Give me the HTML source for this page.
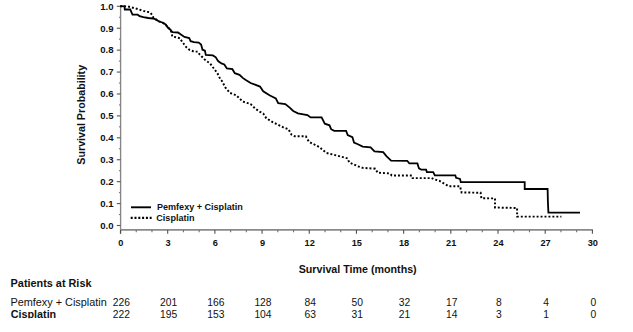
<!DOCTYPE html>
<html><head><meta charset="utf-8"><style>
html,body{margin:0;padding:0;background:#fff;}
body{width:633px;height:332px;overflow:hidden;}
svg{display:block;}
text{font-family:"Liberation Sans",sans-serif;fill:#111;}
.yl{font-size:9.6px;font-weight:bold;text-anchor:end;}
.xl{font-size:9.2px;font-weight:bold;text-anchor:middle;}
.lg{font-size:9.05px;font-weight:bold;}
.tt{font-size:10.7px;font-weight:bold;}
.pr{font-size:10.87px;font-weight:bold;}
.rw{font-size:10.88px;}
.rb{font-size:10.75px;font-weight:bold;}
.nm{font-size:10.3px;text-anchor:middle;}
</style></head><body>
<svg width="633" height="332" viewBox="0 0 633 332">
<defs><clipPath id="c1"><rect x="0" y="300" width="633" height="18.3"/></clipPath></defs>
<rect width="633" height="332" fill="#fff"/>
<line x1="120.6" y1="6" x2="120.6" y2="233.5" stroke="#868686" stroke-width="1.35"/>
<line x1="120" y1="229.9" x2="593" y2="229.9" stroke="#8a8a86" stroke-width="1.7"/>
<line x1="116.8" y1="225.50" x2="120.5" y2="225.50" stroke="#555" stroke-width="1.1"/>
<text x="113.5" y="228.80" class="yl">0.0</text>
<line x1="116.8" y1="203.58" x2="120.5" y2="203.58" stroke="#555" stroke-width="1.1"/>
<text x="113.5" y="206.88" class="yl">0.1</text>
<line x1="116.8" y1="181.66" x2="120.5" y2="181.66" stroke="#555" stroke-width="1.1"/>
<text x="113.5" y="184.96" class="yl">0.2</text>
<line x1="116.8" y1="159.74" x2="120.5" y2="159.74" stroke="#555" stroke-width="1.1"/>
<text x="113.5" y="163.04" class="yl">0.3</text>
<line x1="116.8" y1="137.82" x2="120.5" y2="137.82" stroke="#555" stroke-width="1.1"/>
<text x="113.5" y="141.12" class="yl">0.4</text>
<line x1="116.8" y1="115.90" x2="120.5" y2="115.90" stroke="#555" stroke-width="1.1"/>
<text x="113.5" y="119.20" class="yl">0.5</text>
<line x1="116.8" y1="93.98" x2="120.5" y2="93.98" stroke="#555" stroke-width="1.1"/>
<text x="113.5" y="97.28" class="yl">0.6</text>
<line x1="116.8" y1="72.06" x2="120.5" y2="72.06" stroke="#555" stroke-width="1.1"/>
<text x="113.5" y="75.36" class="yl">0.7</text>
<line x1="116.8" y1="50.14" x2="120.5" y2="50.14" stroke="#555" stroke-width="1.1"/>
<text x="113.5" y="53.44" class="yl">0.8</text>
<line x1="116.8" y1="28.22" x2="120.5" y2="28.22" stroke="#555" stroke-width="1.1"/>
<text x="113.5" y="31.52" class="yl">0.9</text>
<line x1="116.8" y1="6.30" x2="120.5" y2="6.30" stroke="#555" stroke-width="1.1"/>
<text x="113.5" y="9.60" class="yl">1.0</text>
<line x1="118.9" y1="214.54" x2="120.5" y2="214.54" stroke="#777" stroke-width="1.1"/>
<line x1="118.9" y1="192.62" x2="120.5" y2="192.62" stroke="#777" stroke-width="1.1"/>
<line x1="118.9" y1="170.70" x2="120.5" y2="170.70" stroke="#777" stroke-width="1.1"/>
<line x1="118.9" y1="148.78" x2="120.5" y2="148.78" stroke="#777" stroke-width="1.1"/>
<line x1="118.9" y1="126.86" x2="120.5" y2="126.86" stroke="#777" stroke-width="1.1"/>
<line x1="118.9" y1="104.94" x2="120.5" y2="104.94" stroke="#777" stroke-width="1.1"/>
<line x1="118.9" y1="83.02" x2="120.5" y2="83.02" stroke="#777" stroke-width="1.1"/>
<line x1="118.9" y1="61.10" x2="120.5" y2="61.10" stroke="#777" stroke-width="1.1"/>
<line x1="118.9" y1="39.18" x2="120.5" y2="39.18" stroke="#777" stroke-width="1.1"/>
<line x1="118.9" y1="17.26" x2="120.5" y2="17.26" stroke="#777" stroke-width="1.1"/>
<line x1="120.50" y1="230" x2="120.50" y2="233.8" stroke="#505050" stroke-width="1.1"/>
<text x="120.90" y="246" class="xl">0</text>
<line x1="136.23" y1="230" x2="136.23" y2="232.3" stroke="#707070" stroke-width="1.1"/>
<line x1="151.96" y1="230" x2="151.96" y2="232.3" stroke="#707070" stroke-width="1.1"/>
<line x1="167.69" y1="230" x2="167.69" y2="233.8" stroke="#505050" stroke-width="1.1"/>
<text x="168.09" y="246" class="xl">3</text>
<line x1="183.42" y1="230" x2="183.42" y2="232.3" stroke="#707070" stroke-width="1.1"/>
<line x1="199.15" y1="230" x2="199.15" y2="232.3" stroke="#707070" stroke-width="1.1"/>
<line x1="214.88" y1="230" x2="214.88" y2="233.8" stroke="#505050" stroke-width="1.1"/>
<text x="215.28" y="246" class="xl">6</text>
<line x1="230.61" y1="230" x2="230.61" y2="232.3" stroke="#707070" stroke-width="1.1"/>
<line x1="246.34" y1="230" x2="246.34" y2="232.3" stroke="#707070" stroke-width="1.1"/>
<line x1="262.07" y1="230" x2="262.07" y2="233.8" stroke="#505050" stroke-width="1.1"/>
<text x="262.47" y="246" class="xl">9</text>
<line x1="277.80" y1="230" x2="277.80" y2="232.3" stroke="#707070" stroke-width="1.1"/>
<line x1="293.53" y1="230" x2="293.53" y2="232.3" stroke="#707070" stroke-width="1.1"/>
<line x1="309.26" y1="230" x2="309.26" y2="233.8" stroke="#505050" stroke-width="1.1"/>
<text x="309.66" y="246" class="xl">12</text>
<line x1="324.99" y1="230" x2="324.99" y2="232.3" stroke="#707070" stroke-width="1.1"/>
<line x1="340.72" y1="230" x2="340.72" y2="232.3" stroke="#707070" stroke-width="1.1"/>
<line x1="356.45" y1="230" x2="356.45" y2="233.8" stroke="#505050" stroke-width="1.1"/>
<text x="356.85" y="246" class="xl">15</text>
<line x1="372.18" y1="230" x2="372.18" y2="232.3" stroke="#707070" stroke-width="1.1"/>
<line x1="387.91" y1="230" x2="387.91" y2="232.3" stroke="#707070" stroke-width="1.1"/>
<line x1="403.64" y1="230" x2="403.64" y2="233.8" stroke="#505050" stroke-width="1.1"/>
<text x="404.04" y="246" class="xl">18</text>
<line x1="419.37" y1="230" x2="419.37" y2="232.3" stroke="#707070" stroke-width="1.1"/>
<line x1="435.10" y1="230" x2="435.10" y2="232.3" stroke="#707070" stroke-width="1.1"/>
<line x1="450.83" y1="230" x2="450.83" y2="233.8" stroke="#505050" stroke-width="1.1"/>
<text x="451.23" y="246" class="xl">21</text>
<line x1="466.56" y1="230" x2="466.56" y2="232.3" stroke="#707070" stroke-width="1.1"/>
<line x1="482.29" y1="230" x2="482.29" y2="232.3" stroke="#707070" stroke-width="1.1"/>
<line x1="498.02" y1="230" x2="498.02" y2="233.8" stroke="#505050" stroke-width="1.1"/>
<text x="498.42" y="246" class="xl">24</text>
<line x1="513.75" y1="230" x2="513.75" y2="232.3" stroke="#707070" stroke-width="1.1"/>
<line x1="529.48" y1="230" x2="529.48" y2="232.3" stroke="#707070" stroke-width="1.1"/>
<line x1="545.21" y1="230" x2="545.21" y2="233.8" stroke="#505050" stroke-width="1.1"/>
<text x="545.61" y="246" class="xl">27</text>
<line x1="560.94" y1="230" x2="560.94" y2="232.3" stroke="#707070" stroke-width="1.1"/>
<line x1="576.67" y1="230" x2="576.67" y2="232.3" stroke="#707070" stroke-width="1.1"/>
<line x1="592.40" y1="230" x2="592.40" y2="233.8" stroke="#505050" stroke-width="1.1"/>
<text x="592.80" y="246" class="xl">30</text>
<polyline points="120.2,6.2 124.5,6.4 124.8,9.5 130.2,9.5 132.5,14.7 137.7,14.7 139.6,16.1 143.4,17.1 148.2,18.0 152.9,18.5 155.8,19.4 158.6,21.3 162.4,22.5 165.7,24.5 167.6,27.3 170.4,29.7 172.3,32.1 178.0,32.5 180.9,34.4 184.5,36.9 189.2,38.0 190.6,41.2 194.0,42.1 198.7,42.6 201.1,44.5 202.5,49.7 204.9,50.6 205.8,54.9 212.9,55.4 215.8,57.3 218.1,61.1 221.4,63.4 224.3,64.4 226.9,68.4 232.4,69.2 234.8,73.2 239.5,74.8 242.7,77.9 245.8,80.0 250.6,83.0 260.0,86.6 263.2,91.3 269.5,95.3 275.8,98.4 278.2,103.2 285.3,104.0 290.0,107.9 293.2,111.0 297.9,113.4 307.4,115.0 310.6,117.4 321.6,117.4 324.8,123.7 329.5,125.3 331.1,129.2 334.2,130.8 346.1,130.8 347.7,135.0 352.4,137.1 354.0,142.6 357.9,144.2 362.7,146.6 370.6,147.4 374.5,151.3 383.2,152.1 386.4,156.1 391.1,160.6 407.2,160.8 409.3,163.4 417.4,163.4 419.0,168.4 421.3,169.7 426.1,169.7 426.9,172.1 433.2,172.1 434.8,175.4 455.3,175.4 456.1,177.8 460.0,178.9 460.8,182.2 524.7,182.2 524.7,189.0 547.6,189.0 547.9,201.6 548.4,212.7 580.0,212.7" fill="none" stroke="#000" stroke-width="1.8" stroke-linejoin="miter"/>
<polyline points="120.2,6.2 127.3,6.4 130.6,7.1 134.0,8.1 137.7,9.0 140.6,10.0 143.4,10.9 147.2,11.8 150.0,12.3 152.0,14.7 153.4,17.5 155.8,19.4 158.6,21.3 162.4,22.5 165.7,24.5 167.6,27.3 170.4,29.7 171.4,32.0 172.3,36.5 176.1,37.3 179.9,38.2 180.7,39.7 183.5,43.5 186.4,47.3 189.2,49.7 194.0,51.6 197.7,51.6 199.6,54.4 202.5,57.3 204.4,59.2 207.2,61.5 210.1,63.4 212.6,66.9 217.4,73.2 220.5,79.5 222.0,81.0 225.3,87.4 230.0,92.9 236.3,95.3 242.7,101.6 250.6,104.0 255.3,108.7 260.0,111.8 263.2,113.4 266.3,118.2 272.6,122.1 283.7,127.6 288.4,129.2 291.6,134.8 294.8,136.3 305.8,136.3 309.0,141.9 315.3,145.0 320.0,147.4 321.6,149.0 326.3,152.9 339.0,156.1 347.6,158.4 349.2,162.4 357.9,166.3 362.7,167.9 375.3,168.7 377.7,172.7 389.5,173.4 391.9,175.5 411.8,175.5 412.6,178.1 431.6,178.1 434.0,179.2 439.5,180.8 443.4,183.2 449.0,186.3 460.0,186.3 461.6,192.5 480.6,192.7 481.4,198.3 495.0,198.4 495.0,207.5 517.1,208.0 517.1,216.6 561.4,216.6" fill="none" stroke="#000" stroke-width="1.95" stroke-dasharray="1.95 2"/>
<line x1="131" y1="207.3" x2="151" y2="207.3" stroke="#000" stroke-width="1.9"/>
<line x1="130.7" y1="217.9" x2="151.6" y2="217.9" stroke="#000" stroke-width="2.1" stroke-dasharray="2 1.8"/>
<text x="157" y="209.7" class="lg">Pemfexy + Cisplatin</text>
<text x="156.3" y="221" class="lg">Cisplatin</text>
<text transform="translate(85.0,114.8) rotate(-90)" class="tt" text-anchor="middle">Survival Probability</text>
<text x="357.7" y="272.7" class="tt" text-anchor="middle">Survival Time (months)</text>
<text x="10.6" y="286.8" class="pr">Patients at Risk</text>
<text x="10.4" y="306.1" class="rw">Pemfexy + Cisplatin</text>
<g clip-path="url(#c1)"><text x="10.8" y="317.9" class="rb">Cisplatin</text></g>
<text x="121.40" y="305.6" class="nm">226</text>
<text x="121.40" y="318.3" class="nm">222</text>
<text x="168.59" y="305.6" class="nm">201</text>
<text x="168.59" y="318.3" class="nm">195</text>
<text x="215.78" y="305.6" class="nm">166</text>
<text x="215.78" y="318.3" class="nm">153</text>
<text x="262.97" y="305.6" class="nm">128</text>
<text x="262.97" y="318.3" class="nm">104</text>
<text x="310.16" y="305.6" class="nm">84</text>
<text x="310.16" y="318.3" class="nm">63</text>
<text x="357.35" y="305.6" class="nm">50</text>
<text x="357.35" y="318.3" class="nm">31</text>
<text x="404.54" y="305.6" class="nm">32</text>
<text x="404.54" y="318.3" class="nm">21</text>
<text x="451.73" y="305.6" class="nm">17</text>
<text x="451.73" y="318.3" class="nm">14</text>
<text x="498.92" y="305.6" class="nm">8</text>
<text x="498.92" y="318.3" class="nm">3</text>
<text x="546.11" y="305.6" class="nm">4</text>
<text x="546.11" y="318.3" class="nm">1</text>
<text x="593.30" y="305.6" class="nm">0</text>
<text x="593.30" y="318.3" class="nm">0</text>
</svg>
</body></html>
